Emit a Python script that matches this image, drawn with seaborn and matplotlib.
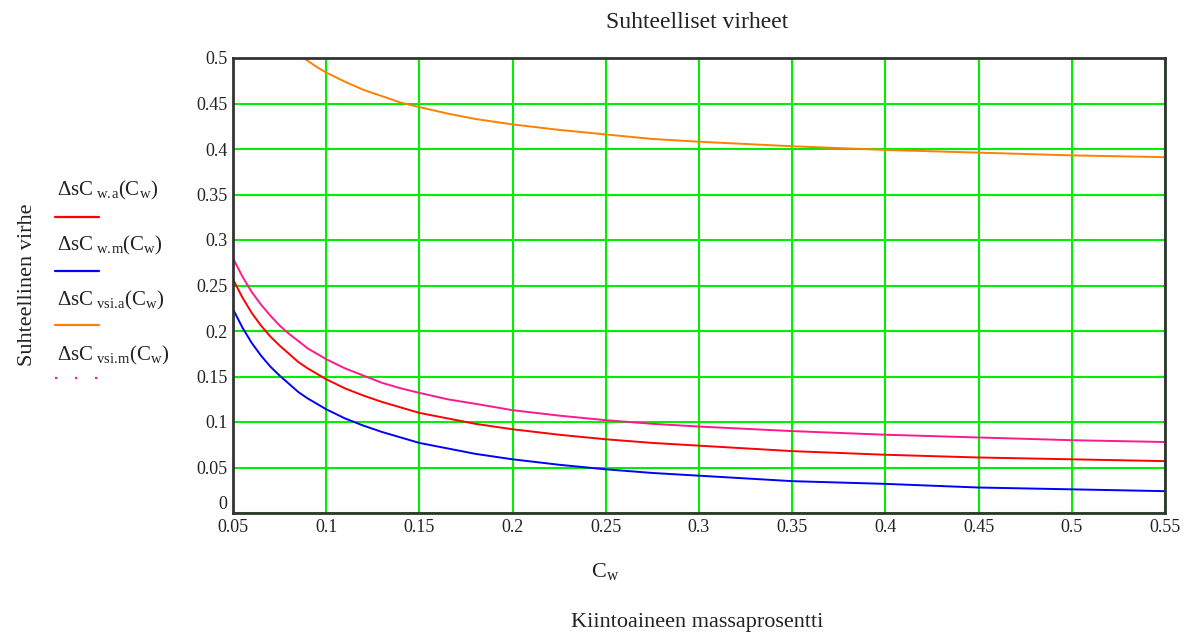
import numpy as np
import pandas as pd
import seaborn as sns
import matplotlib
matplotlib.use("Agg")
import matplotlib.pyplot as plt
from matplotlib.lines import Line2D

# ---- data ----
cw = [0.05, 0.055, 0.06, 0.065, 0.07, 0.075, 0.08, 0.085, 0.09, 0.095, 0.1,
      0.11, 0.12, 0.13, 0.14, 0.15, 0.165, 0.18, 0.2, 0.225, 0.25, 0.275, 0.3,
      0.35, 0.4, 0.45, 0.5, 0.55]
ds_w_a = [0.257, 0.237, 0.220, 0.206, 0.194, 0.184, 0.175, 0.166, 0.159, 0.153, 0.147,
          0.137, 0.129, 0.122, 0.116, 0.110, 0.104, 0.098, 0.092, 0.086, 0.081, 0.077, 0.074,
          0.068, 0.064, 0.061, 0.059, 0.057]
ds_w_m = [0.224, 0.204, 0.187, 0.173, 0.161, 0.151, 0.142, 0.133, 0.126, 0.120, 0.114,
          0.104, 0.096, 0.089, 0.083, 0.077, 0.071, 0.065, 0.059, 0.053, 0.048, 0.044, 0.041,
          0.035, 0.032, 0.028, 0.026, 0.024]
ds_vsi_m = [0.280, 0.260, 0.243, 0.229, 0.217, 0.206, 0.197, 0.189, 0.181, 0.175, 0.169,
            0.159, 0.151, 0.143, 0.137, 0.132, 0.125, 0.120, 0.113, 0.107, 0.102, 0.098, 0.095,
            0.090, 0.086, 0.083, 0.080, 0.078]
cw_vsi_a = [0.08, 0.085, 0.09, 0.095, 0.1, 0.11, 0.12, 0.13, 0.14, 0.15, 0.165, 0.18,
            0.2, 0.225, 0.25, 0.275, 0.3, 0.35, 0.4, 0.45, 0.5, 0.55]
ds_vsi_a = [0.513, 0.504, 0.497, 0.490, 0.484, 0.474, 0.465, 0.458, 0.451, 0.446, 0.439, 0.433,
            0.427, 0.421, 0.416, 0.411, 0.408, 0.403, 0.399, 0.396, 0.393, 0.391]

x_ticks = [0.05, 0.1, 0.15, 0.2, 0.25, 0.3, 0.35, 0.4, 0.45, 0.5, 0.55]
x_tick_labels = ["0.05", "0.1", "0.15", "0.2", "0.25", "0.3", "0.35", "0.4", "0.45", "0.5", "0.55"]
y_ticks = [0, 0.05, 0.1, 0.15, 0.2, 0.25, 0.3, 0.35, 0.4, 0.45, 0.5]
y_tick_labels = ["0", "0.05", "0.1", "0.15", "0.2", "0.25", "0.3", "0.35", "0.4", "0.45", "0.5"]

series_labels = [r"$\Delta$sC$_{\rm\ w.\!a}$(C$_{\rm w}$)",
                 r"$\Delta$sC$_{\rm\ w.\!m}$(C$_{\rm w}$)",
                 r"$\Delta$sC$_{\rm\ vsi.\!a}$(C$_{\rm w}$)",
                 r"$\Delta$sC$_{\rm\ vsi.\!m}$(C$_{\rm w}$)"]
colors = ["#ff0000", "#0000ff", "#ff8000", "#ff1a8c"]

title = "Suhteelliset virheet"
ylabel = "Suhteellinen virhe"
xlabel_sym = r"C$_{\rm w}$"
xlabel = "Kiintoaineen massaprosentti"

# ---- style ----
sns.set_theme(style="white")
plt.rcParams["font.family"] = ["Liberation Serif", "DejaVu Serif"]
plt.rcParams["mathtext.fontset"] = "custom"
plt.rcParams["mathtext.rm"] = "Liberation Serif"
plt.rcParams["mathtext.it"] = "Liberation Serif"
plt.rcParams["mathtext.default"] = "rm"

txt_col = "#222222"
fig = plt.figure(figsize=(12.04, 6.39), dpi=100)
ax = fig.add_axes([233/1204, 1-513/639, (1165-233)/1204, (513-58)/639])

sns.lineplot(x=cw, y=ds_w_a, ax=ax, color=colors[0], lw=1.4)
sns.lineplot(x=cw, y=ds_w_m, ax=ax, color=colors[1], lw=1.4)
sns.lineplot(x=cw_vsi_a, y=ds_vsi_a, ax=ax, color=colors[2], lw=1.4)
sns.lineplot(x=cw, y=ds_vsi_m, ax=ax, color=colors[3], lw=1.4)

ax.set_xlim(0.05, 0.55)
ax.set_ylim(0, 0.5)
ax.set_xticks(x_ticks)
ax.set_xticklabels(x_tick_labels)
ax.set_yticks(y_ticks)
ax.set_yticklabels(y_tick_labels)
ax.tick_params(length=0, labelsize=13, labelcolor=txt_col, pad=4)
ax.get_yticklabels()[0].set_va("bottom")
ax.grid(True, color="#00ee00", lw=1.5)
ax.set_axisbelow(True)
for s in ax.spines.values():
    s.set_color("#333333")
    s.set_linewidth(2)
ax.set_xlabel("")
ax.set_ylabel("")

# titles / labels
fig.text(697/1204, 1-22/639, title, ha="center", va="center", fontsize=17, color=txt_col)
fig.text(28/1204, 1-285/639, ylabel, ha="center", va="center", rotation=90, fontsize=16, color=txt_col)
fig.text(605/1204, 1-572/639, xlabel_sym, ha="center", va="center", fontsize=16, color=txt_col)
fig.text(697/1204, 1-623/639, xlabel, ha="center", va="center", fontsize=16, color=txt_col)

# legend (Mathcad style: label above a line sample)
text_y = [190, 245, 300, 355]
line_y = [217, 271, 325, 378]
styles = ["-", "-", "-", (0, (1, 8))]
for lab, ty, ly, c, st in zip(series_labels, text_y, line_y, colors, styles):
    fig.text(57/1204, 1-ty/639, lab, ha="left", va="center", fontsize=15, color=txt_col)
    fig.add_artist(Line2D([55/1204, 99/1204], [1-ly/639, 1-ly/639], color=c, lw=1.6,
                          linestyle=st, transform=fig.transFigure))

fig.savefig("out.png", dpi=100, facecolor="white")
